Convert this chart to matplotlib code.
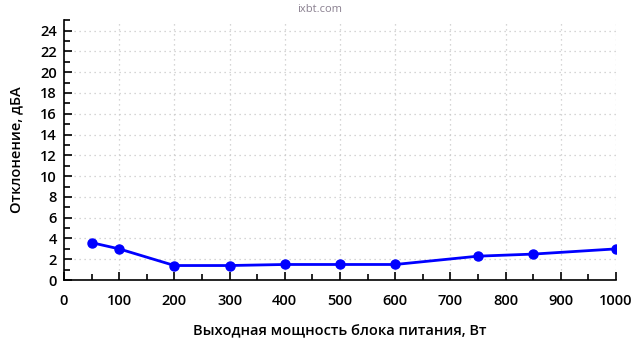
import matplotlib.pyplot as plt
from matplotlib.ticker import MultipleLocator

plt.rcParams['font.family'] = ['Open Sans', 'DejaVu Sans']

# Data
power_w = [50, 100, 200, 300, 400, 500, 600, 750, 850, 1000]
deviation_dba = [3.6, 3.0, 1.4, 1.4, 1.5, 1.5, 1.5, 2.3, 2.5, 3.0]

fig = plt.figure(figsize=(6.4, 3.6), dpi=100)
ax = fig.add_axes([0.1, 0.222, 0.8625, 0.722])

ax.plot(power_w, deviation_dba, color='#0000ff', lw=2, marker='o', ms=6.5, zorder=3)

ax.set_xlim(0, 1000)
ax.set_ylim(0, 25)
ax.xaxis.set_major_locator(MultipleLocator(100))
ax.xaxis.set_minor_locator(MultipleLocator(50))
ax.yaxis.set_major_locator(MultipleLocator(2))
ax.yaxis.set_minor_locator(MultipleLocator(1))

ax.grid(True, which='major', color='#c8c8c8', linestyle=(0, (1, 3)), lw=0.9)
for s in ['top', 'right']:
    ax.spines[s].set_visible(False)
for s in ['left', 'bottom']:
    ax.spines[s].set_linewidth(1.2)

ax.tick_params(which='major', direction='in', length=6, width=1.2, labelsize=10.5, pad=10)
ax.tick_params(which='minor', direction='in', length=4, width=1.2)
ax.tick_params(axis='y', pad=5)
for lbl in ax.get_xticklabels() + ax.get_yticklabels():
    lbl.set_fontweight('semibold')

ax.set_xlabel('Выходная мощность блока питания, Вт', fontsize=10.5,
              fontweight='semibold', labelpad=12)
ax.set_ylabel('Отклонение, дБА', fontsize=10.5, fontweight='semibold', labelpad=12)

fig.text(0.5, 0.975, 'ixbt.com', ha='center', va='center', fontsize=8, color='#8a8090')

fig.savefig('out.png')
